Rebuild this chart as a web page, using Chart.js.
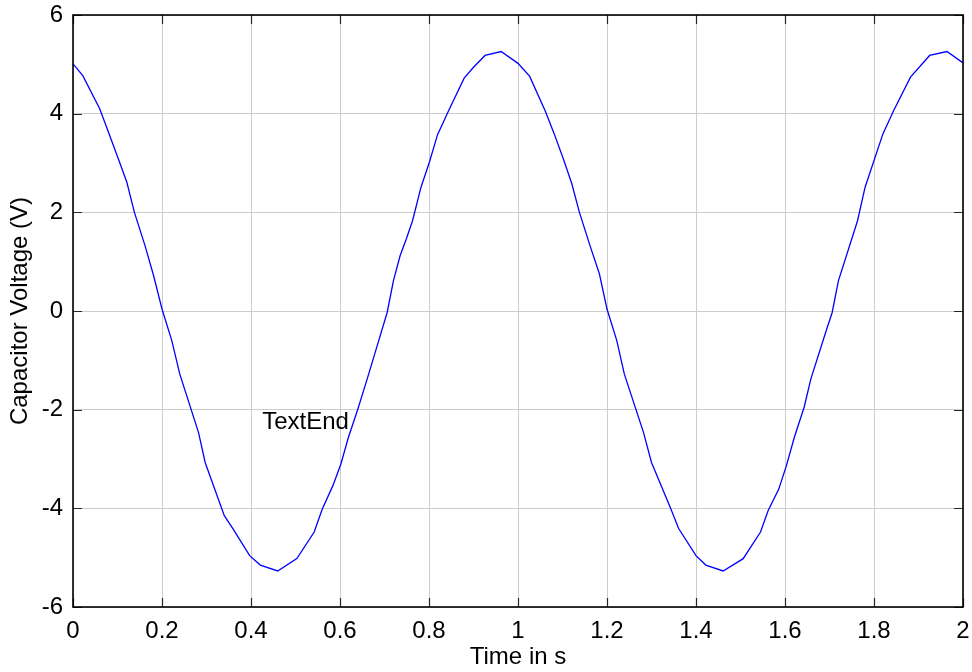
<!DOCTYPE html>
<html>
<head>
<meta charset="utf-8">
<title>Capacitor Voltage</title>
<script src="https://cdn.jsdelivr.net/npm/chart.js@4/dist/chart.umd.min.js"></script>
<style>
  html, body { margin: 0; padding: 0; background: #fff; }
  #wrap { width: 972px; height: 672px; position: relative; }
</style>
</head>
<body>
<div id="wrap"><canvas id="chart-voltage"></canvas></div>
<script>
// solver output: time (s) and capacitor voltage (V)
var timeSec = [
	0, 0.022, 0.06, 0.08, 0.102, 0.121, 0.138, 0.162, 0.181, 0.2,
	0.222, 0.24, 0.282, 0.297, 0.34, 0.36, 0.397, 0.421, 0.46, 0.503,
	0.542, 0.56, 0.584, 0.602, 0.619, 0.64, 0.661, 0.687, 0.706, 0.72,
	0.735, 0.749, 0.763, 0.782, 0.801, 0.819, 0.844, 0.879, 0.9, 0.926,
	0.962, 1.0, 1.026, 1.061, 1.081, 1.102, 1.121, 1.138, 1.162, 1.183,
	1.2, 1.222, 1.239, 1.282, 1.3, 1.342, 1.361, 1.4, 1.422, 1.461,
	1.506, 1.545, 1.562, 1.586, 1.603, 1.621, 1.643, 1.658, 1.69, 1.706,
	1.72, 1.763, 1.78, 1.82, 1.844, 1.882, 1.925, 1.964, 2.0
];
var capVolts = [
	5.01, 4.77, 4.10, 3.62, 3.08, 2.61, 2.00, 1.32, 0.72, 0.04,
	-0.60, -1.28, -2.46, -3.07, -4.15, -4.42, -4.96, -5.15, -5.27, -5.02,
	-4.48, -4.02, -3.54, -3.10, -2.56, -1.99, -1.38, -0.60, -0.03, 0.61,
	1.12, 1.46, 1.83, 2.51, 3.02, 3.57, 4.06, 4.72, 4.94, 5.18,
	5.26, 5.02, 4.76, 4.06, 3.60, 3.08, 2.58, 2.00, 1.32, 0.75,
	0.04, -0.60, -1.28, -2.46, -3.07, -3.98, -4.41, -4.96, -5.15, -5.27,
	-5.02, -4.48, -4.05, -3.61, -3.14, -2.56, -1.95, -1.38, -0.47, -0.03,
	0.61, 1.83, 2.51, 3.59, 4.06, 4.74, 5.18, 5.26, 5.03
];

var xTicks = [0, 0.2, 0.4, 0.6, 0.8, 1, 1.2, 1.4, 1.6, 1.8, 2];
var yTicks = [-6, -4, -2, 0, 2, 4, 6];

var noteText = 'TextEnd';
var noteAt = {x: 0.425, y: -2.25};

const FONT_FAMILY = '"Liberation Sans", Arial, sans-serif';
const FONT_SIZE = 24;

var points = timeSec.map(function (t, i) {
	return {x: t, y: capVolts[i]};
});

// labels may hang over the plot edges; keep the plot box where the layout puts it
function noOverhang(scale) {
	scale.paddingTop = 0;
	scale.paddingBottom = 0;
	scale.paddingLeft = 0;
	scale.paddingRight = 0;
}

// box around the axes, inward tick marks on all four sides, and the text note
var axesBoxPlugin = {
	id: 'axesBox',
	afterDraw: function (chart) {
		var ctx = chart.ctx;
		var a = chart.chartArea;
		var xs = chart.scales.x;
		var ys = chart.scales.y;
		var tickLen = 9;

		ctx.save();
		ctx.strokeStyle = '#262626';
		ctx.lineWidth = 1.2;
		ctx.beginPath();
		xTicks.forEach(function (v) {
			var px = Math.round(xs.getPixelForValue(v)) + 0.5;
			ctx.moveTo(px, a.bottom);
			ctx.lineTo(px, a.bottom - tickLen);
			ctx.moveTo(px, a.top);
			ctx.lineTo(px, a.top + tickLen);
		});
		yTicks.forEach(function (v) {
			var py = Math.round(ys.getPixelForValue(v)) + 0.5;
			ctx.moveTo(a.left, py);
			ctx.lineTo(a.left + tickLen, py);
			ctx.moveTo(a.right, py);
			ctx.lineTo(a.right - tickLen, py);
		});
		ctx.stroke();

		ctx.strokeStyle = '#000';
		ctx.lineWidth = 1.6;
		ctx.strokeRect(a.left, a.top, a.right - a.left, a.bottom - a.top);

		ctx.fillStyle = '#000';
		ctx.font = FONT_SIZE + 'px ' + FONT_FAMILY;
		ctx.textAlign = 'left';
		ctx.textBaseline = 'middle';
		ctx.fillText(noteText, xs.getPixelForValue(noteAt.x), ys.getPixelForValue(noteAt.y));
		ctx.restore();
	}
};

var voltageChartConfig = {
	type: 'line',
	data: {
		datasets: [{
			data: points,
			borderColor: '#0000ff',
			borderWidth: 1.3,
			pointRadius: 0,
			tension: 0,
			fill: false
		}]
	},
	options: {
		responsive: false,
		animation: false,
		layout: {
			padding: {top: 15, right: 9, left: 0, bottom: 0}
		},
		plugins: {
			legend: {display: false},
			tooltip: {enabled: false}
		},
		scales: {
			x: {
				type: 'linear',
				min: 0,
				max: 2,
				afterBuildTicks: function (scale) {
					scale.ticks = xTicks.map(function (v) { return {value: v}; });
				},
				afterFit: function (scale) {
					scale.height = 65;
					noOverhang(scale);
				},
				grid: {color: '#cccccc', lineWidth: 1, drawTicks: false},
				border: {display: false},
				ticks: {
					color: '#000',
					padding: 10,
					maxRotation: 0,
					font: {family: FONT_FAMILY, size: FONT_SIZE},
					callback: function (v) {
						return String(Number(v.toFixed(1)));
					}
				},
				title: {
					display: true,
					text: 'Time in s',
					color: '#000',
					padding: {top: 0, bottom: 0},
					font: {family: FONT_FAMILY, size: FONT_SIZE}
				}
			},
			y: {
				type: 'linear',
				min: -6,
				max: 6,
				afterBuildTicks: function (scale) {
					scale.ticks = yTicks.map(function (v) { return {value: v}; });
				},
				afterFit: function (scale) {
					scale.width = 73;
					noOverhang(scale);
				},
				grid: {color: '#cccccc', lineWidth: 1, drawTicks: false},
				border: {display: false},
				ticks: {
					color: '#000',
					padding: 10,
					font: {family: FONT_FAMILY, size: FONT_SIZE},
					callback: function (v) {
						return String(v);
					}
				},
				title: {
					display: true,
					text: 'Capacitor Voltage (V)',
					color: '#000',
					padding: {top: 6, bottom: 0},
					font: {family: FONT_FAMILY, size: FONT_SIZE}
				}
			}
		}
	},
	plugins: [axesBoxPlugin]
};

var canvas = document.getElementById('chart-voltage');
canvas.width = 972;
canvas.height = 672;
window.voltageChart = new Chart(canvas.getContext('2d'), voltageChartConfig);
</script>
</body>
</html>
